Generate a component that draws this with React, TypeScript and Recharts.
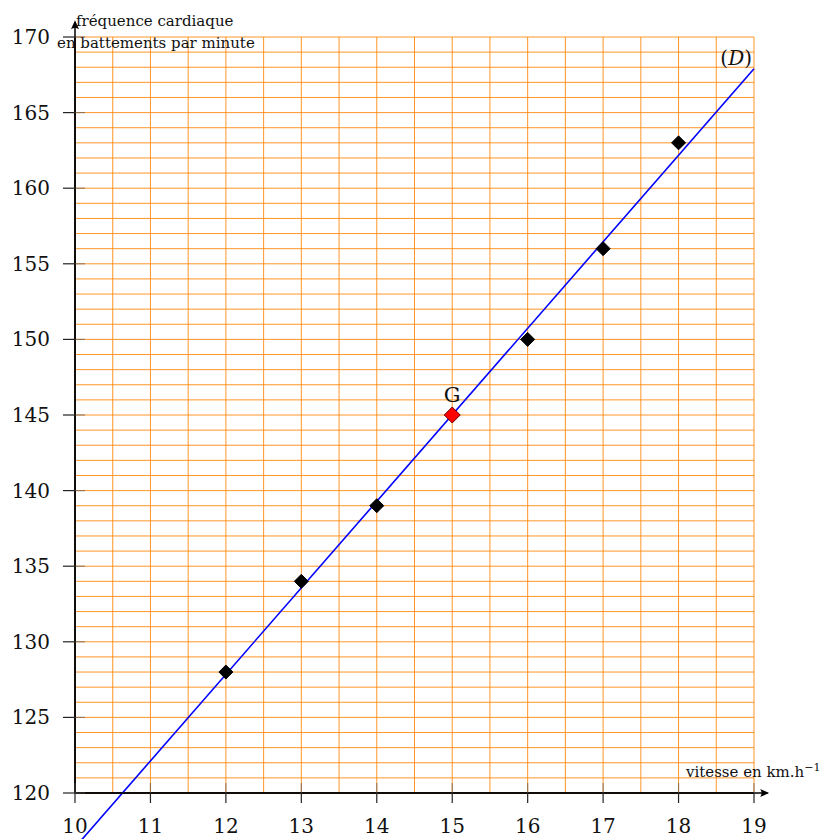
import { ScatterChart, Scatter, XAxis, YAxis, CartesianGrid, ReferenceLine, ReferenceDot } from 'recharts';

// ── data ──
const xTicks = [10, 11, 12, 13, 14, 15, 16, 17, 18, 19];
const yTicks = [120, 125, 130, 135, 140, 145, 150, 155, 160, 165, 170];
const gridX = [10, 10.5, 11, 11.5, 12, 12.5, 13, 13.5, 14, 14.5, 15, 15.5, 16, 16.5, 17, 17.5, 18, 18.5, 19];
const gridY = [
  120, 121, 122, 123, 124, 125, 126, 127, 128, 129, 130, 131, 132, 133, 134, 135, 136,
  137, 138, 139, 140, 141, 142, 143, 144, 145, 146, 147, 148, 149, 150, 151, 152, 153,
  154, 155, 156, 157, 158, 159, 160, 161, 162, 163, 164, 165, 166, 167, 168, 169, 170,
];
const speeds = [12, 13, 14, 16, 17, 18];
const heartRates = [128, 134, 139, 150, 156, 163];
const centroid = [{ x: 15, y: 145 }];
const lineD = [{ x: 10, y: 116.4 }, { x: 19, y: 167.9 }];

const points = speeds.map((x, i) => ({ x, y: heartRates[i] }));

const FONT = '"DejaVu Serif", serif';
const ORANGE = '#ff8a10';

if (typeof document !== 'undefined') document.body.style.margin = '0';

const Diamond = ({ cx, cy, fill, stroke, r }: any) => (
  <path
    d={`M${cx},${cy - r} L${cx + r},${cy} L${cx},${cy + r} L${cx - r},${cy} Z`}
    fill={fill}
    stroke={stroke}
    strokeWidth={1}
  />
);

const YTick = ({ x, y, payload }: any) => (
  <g>
    <line x1={x - 12} y1={y} x2={x} y2={y} stroke="#222" strokeWidth={1.2} />
    <line x1={x} y1={y} x2={x + 10} y2={y} stroke="#555" strokeOpacity={0.6} strokeWidth={1.2} />
    <text x={x - 25} y={y + 7} textAnchor="end" fontFamily={FONT} fontSize={20} fill="#111">
      {payload.value}
    </text>
  </g>
);

const XTick = ({ x, y, payload }: any) => (
  <g>
    <line x1={x} y1={y - 10} x2={x} y2={y} stroke="#555" strokeOpacity={0.6} strokeWidth={1.2} />
    <line x1={x} y1={y} x2={x} y2={y + 10} stroke="#222" strokeWidth={1.2} />
    <text x={x} y={y + 40} textAnchor="middle" fontFamily={FONT} fontSize={20} fill="#111">
      {payload.value}
    </text>
  </g>
);

export default function App() {
  return (
    <ScatterChart width={821} height={839} margin={{ top: 37, right: 67, left: 0, bottom: 0 }}>
      <CartesianGrid
        stroke={ORANGE}
        strokeOpacity={0.9}
        verticalValues={gridX}
        horizontalValues={gridY}
      />
      <XAxis
        type="number"
        dataKey="x"
        domain={[10, 19]}
        ticks={xTicks}
        height={46}
        tickSize={0}
        tickMargin={0}
        tickLine={false}
        axisLine={{ stroke: '#000', strokeWidth: 1.5 }}
        tick={<XTick />}
        interval={0}
      />
      <YAxis
        type="number"
        dataKey="y"
        domain={[120, 170]}
        ticks={yTicks}
        width={75}
        tickSize={0}
        tickMargin={0}
        tickLine={false}
        axisLine={{ stroke: '#000', strokeWidth: 1.5 }}
        tick={<YTick />}
        interval={0}
      />

      {/* axes extended with arrows */}
      <ReferenceLine segment={[{ x: 10, y: 120 }, { x: 10, y: 171.0 }]} stroke="#000" strokeWidth={1.5} ifOverflow="visible" />
      <ReferenceLine segment={[{ x: 10, y: 120 }, { x: 19.18, y: 120 }]} stroke="#000" strokeWidth={1.5} ifOverflow="visible" />
      <ReferenceDot
        x={10}
        y={171.1}
        ifOverflow="visible"
        shape={({ cx, cy }: any) => (
          <path d={`M${cx},${cy} L${cx - 4},${cy + 9} Q${cx},${cy + 6} ${cx + 4},${cy + 9} Z`} fill="#000" />
        )}
      />
      <ReferenceDot
        x={19.2}
        y={120}
        ifOverflow="visible"
        shape={({ cx, cy }: any) => (
          <path d={`M${cx},${cy} L${cx - 9},${cy - 4} Q${cx - 6},${cy} ${cx - 9},${cy + 4} Z`} fill="#000" />
        )}
      />

      {/* regression line (D) */}
      <ReferenceLine segment={lineD} stroke="#0000ff" strokeWidth={1.6} ifOverflow="visible" />

      <Scatter data={points} isAnimationActive={false} shape={(p: any) => <Diamond {...p} r={7} fill="#000" stroke="#000" />} />
      <Scatter data={centroid} isAnimationActive={false} shape={(p: any) => <Diamond {...p} r={8} fill="#ff0000" stroke="#600" />} />

      {/* annotations */}
      <ReferenceDot
        x={10}
        y={170}
        ifOverflow="visible"
        shape={({ cx, cy }: any) => (
          <g fontFamily={FONT} fontSize={15} fill="#111">
            <text x={cx + 1} y={cy - 11}>fréquence cardiaque</text>
            <text x={cx - 18} y={cy + 11}>en battements par minute</text>
          </g>
        )}
      />
      <ReferenceDot
        x={19}
        y={120}
        ifOverflow="visible"
        shape={({ cx, cy }: any) => (
          <text x={cx - 68} y={cy - 16} fontFamily={FONT} fontSize={15} fill="#111">
            vitesse en km.h<tspan dy={-6} fontSize={11}>−1</tspan>
          </text>
        )}
      />
      <ReferenceDot
        x={19}
        y={170}
        ifOverflow="visible"
        shape={({ cx, cy }: any) => (
          <text x={cx - 2} y={cy + 28} textAnchor="end" fontFamily={FONT} fontSize={20} fill="#111">
            (<tspan fontStyle="italic">D</tspan>)
          </text>
        )}
      />
      <ReferenceDot
        x={15}
        y={145}
        ifOverflow="visible"
        shape={({ cx, cy }: any) => (
          <text x={cx} y={cy - 13} textAnchor="middle" fontFamily={FONT} fontSize={21} fill="#111">
            G
          </text>
        )}
      />
    </ScatterChart>
  );
}
